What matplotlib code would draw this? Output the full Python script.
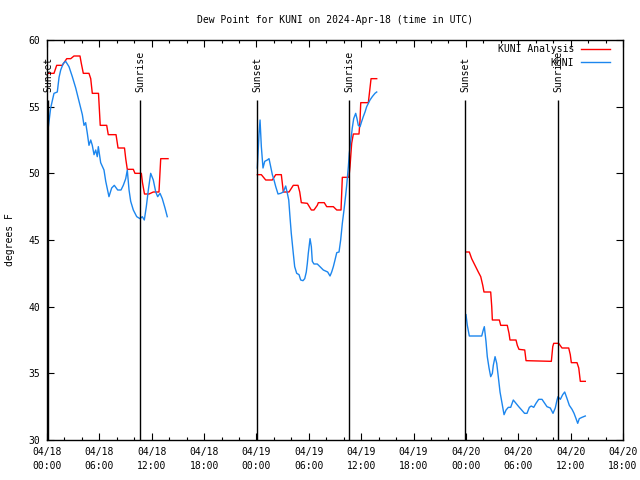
import matplotlib
matplotlib.use("Agg")
import matplotlib.pyplot as plt

# ---- data (hours since 2024-04-18 00:00 UTC) ----
obs_t1 = [0.11, 0.42, 0.80, 1.18, 1.38, 1.57, 1.87, 2.14, 2.52, 2.90, 3.29, 3.67, 4.05, 4.24,
          4.43, 4.62, 4.81, 5.01, 5.19, 5.39, 5.58, 5.76, 5.88, 6.15, 6.53, 6.73, 7.10, 7.41,
          7.71, 8.10, 8.48, 8.74, 9.02, 9.20, 9.40, 9.59, 9.89, 10.28, 10.66, 10.92, 11.15,
          11.38, 11.61, 11.88, 12.18, 12.46, 12.68, 12.95, 13.21, 13.52, 13.78]
obs_v1 = [53.25, 54.9, 56.0, 56.1, 57.2, 57.75, 58.25, 58.4, 58.0, 57.25, 56.4, 55.4, 54.4, 53.6,
          53.8, 53.0, 52.1, 52.5, 52.1, 51.4, 51.75, 51.25, 52.0, 50.8, 50.25, 49.4, 48.25, 48.9,
          49.1, 48.75, 48.75, 49.1, 49.6, 50.25, 48.75, 47.9, 47.25, 46.75, 46.6, 46.75, 46.5,
          47.5, 48.75, 50.0, 49.5, 48.6, 48.25, 48.5, 48.1, 47.4, 46.75]

obs_t2 = [24.10, 24.29, 24.41, 24.56, 24.75, 24.95, 25.24, 25.44, 25.63, 25.82, 26.01, 26.21,
          26.47, 26.78, 27.08, 27.35, 27.54, 27.70, 27.84, 27.99, 28.22, 28.38, 28.61, 28.88,
          29.07, 29.33, 29.53, 29.71, 29.83, 29.94, 30.14, 30.29, 30.40, 30.59, 30.97, 31.28,
          31.66, 32.16, 32.43, 32.62, 32.81, 33.00, 33.20, 33.46, 33.65, 33.84, 34.03, 34.23,
          34.34, 34.53, 34.64, 34.80, 34.98, 35.14, 35.37, 35.52, 35.67, 35.87, 36.06, 36.24,
          36.44, 36.63, 36.82, 37.01, 37.27, 37.58, 37.78]
obs_v2 = [50.4, 52.9, 54.0, 52.0, 50.4, 50.9, 51.0, 51.1, 50.5, 49.9, 49.5, 49.0,
          48.45, 48.5, 48.6, 49.05, 48.5, 48.0, 46.75, 45.5, 44.0, 43.0, 42.5, 42.4,
          42.0, 41.95, 42.1, 42.6, 43.25, 44.0, 45.1, 44.5, 43.4, 43.2, 43.2, 43.0,
          42.75, 42.6, 42.3, 42.6, 43.0, 43.5, 44.05, 44.1, 45.0, 46.25, 47.25, 48.4,
          49.1, 50.5, 51.5, 52.4, 53.4, 54.1, 54.5, 54.1, 53.6, 53.5, 53.9, 54.25,
          54.6, 55.0, 55.25, 55.5, 55.75, 56.0, 56.1]

obs_t3 = [48.01, 48.16, 48.39, 49.81, 49.99, 50.11, 50.30, 50.45, 50.65, 50.84, 51.03, 51.14,
          51.34, 51.53, 51.71, 51.91, 52.10, 52.37, 52.60, 52.86, 53.13, 53.43, 53.74, 54.05,
          54.39, 54.72, 55.00, 55.27, 55.49, 55.77, 56.03, 56.34, 56.72, 57.03, 57.29, 57.67,
          57.98, 58.24, 58.44, 58.55, 58.82, 59.09, 59.32, 59.59, 59.85, 60.16, 60.39, 60.62,
          60.81, 60.99, 61.30, 61.68]
obs_v3 = [39.4, 38.6, 37.8, 37.8, 38.25, 38.5, 37.4, 36.25, 35.4, 34.75, 35.0, 35.6,
          36.25, 35.75, 34.75, 33.6, 32.9, 31.9, 32.25, 32.45, 32.45, 33.0, 32.75, 32.5,
          32.25, 32.0, 32.0, 32.45, 32.55, 32.45, 32.75, 33.05, 33.05, 32.75, 32.5, 32.4,
          32.0, 32.4, 33.0, 33.25, 33.05, 33.4, 33.6, 33.1, 32.6, 32.3, 32.0, 31.6,
          31.25, 31.6, 31.7, 31.8]

ana_t1 = [0.11, 0.80, 1.11, 1.75, 2.26, 2.72, 3.09, 3.78, 3.93, 4.16, 4.81, 5.01, 5.19, 5.90,
          6.10, 6.84, 7.02, 7.91, 8.14, 8.88, 9.02, 9.20, 9.89, 10.08, 10.81, 10.94, 11.17,
          11.69, 12.18, 12.83, 13.03, 13.87]
ana_v1 = [57.5, 57.5, 58.1, 58.1, 58.6, 58.6, 58.8, 58.8, 58.25, 57.5, 57.5, 57.1, 56.0, 56.0,
          53.6, 53.6, 52.9, 52.9, 51.9, 51.9, 51.1, 50.3, 50.3, 50.0, 50.0, 49.3, 48.45,
          48.45, 48.6, 48.6, 51.1, 51.1]

ana_t2 = [24.10, 24.56, 25.06, 25.82, 26.21, 26.85, 27.08, 27.73, 28.22, 28.76, 28.96, 29.14,
          29.83, 30.29, 30.59, 30.97, 31.09, 31.77, 32.05, 32.81, 33.20, 33.69, 33.84, 34.52,
          34.60, 34.72, 34.91, 35.10, 35.75, 35.87, 35.95, 36.82, 37.01, 37.13, 37.78]
ana_v2 = [49.9, 49.9, 49.5, 49.5, 49.9, 49.9, 48.6, 48.6, 49.1, 49.1, 48.6, 47.8,
          47.75, 47.25, 47.25, 47.6, 47.8, 47.8, 47.5, 47.5, 47.25, 47.25, 49.7, 49.7,
          49.75, 50.5, 52.25, 52.95, 52.95, 54.0, 55.3, 55.3, 56.4, 57.1, 57.1]

ana_t3 = [48.01, 48.39, 48.66, 49.04, 49.42, 49.70, 49.93, 50.07, 50.84, 50.96, 51.03, 51.83,
          51.99, 52.74, 52.94, 53.05, 53.74, 53.89, 54.08, 54.74, 54.89, 57.79, 57.95, 58.06,
          58.63, 59.01, 59.78, 59.96, 60.08, 60.73, 60.93, 61.11, 61.68]
ana_v3 = [44.1, 44.1, 43.6, 43.1, 42.6, 42.25, 41.6, 41.1, 41.1, 40.0, 39.0, 39.0,
          38.6, 38.6, 38.0, 37.5, 37.5, 37.1, 36.8, 36.75, 35.95, 35.9, 37.0, 37.25,
          37.25, 36.9, 36.9, 36.4, 35.8, 35.8, 35.4, 34.4, 34.4]

sun_times = [0.11, 10.66, 24.06, 34.61, 47.90, 58.55]
sun_labels = ["Sunset", "Sunrise", "Sunset", "Sunrise", "Sunset", "Sunrise"]

xtick_hours = [0, 6, 12, 18, 24, 30, 36, 42, 48, 54, 60, 66]
xtick_labels = ["04/18\n00:00", "04/18\n06:00", "04/18\n12:00", "04/18\n18:00",
                "04/19\n00:00", "04/19\n06:00", "04/19\n12:00", "04/19\n18:00",
                "04/20\n00:00", "04/20\n06:00", "04/20\n12:00", "04/20\n18:00"]
ytick_vals = [30, 35, 40, 45, 50, 55, 60]

title = "Dew Point for KUNI on 2024-Apr-18 (time in UTC)"

# ---- style ----
FONT = "DejaVu Sans Mono"
FS = 7
RED = "#ff0000"
BLUE = "#1c86ee"
plt.rcParams["font.family"] = FONT
plt.rcParams["font.size"] = FS

fig = plt.figure(figsize=(6.4, 4.8), dpi=100)
ax = fig.add_axes([47 / 640, 40 / 480, 576 / 640, 400 / 480])

for i, (t, v) in enumerate([(ana_t1, ana_v1), (ana_t2, ana_v2), (ana_t3, ana_v3)]):
    ax.plot(t, v, color=RED, lw=1.0, label="KUNI Analysis" if i == 0 else None)
for i, (t, v) in enumerate([(obs_t1, obs_v1), (obs_t2, obs_v2), (obs_t3, obs_v3)]):
    ax.plot(t, v, color=BLUE, lw=1.0, label="KUNI" if i == 0 else None)

for t, lab in zip(sun_times, sun_labels):
    ax.vlines(t, 30, 55.5, color="black", lw=1.0)
    ax.text(t, 56.1, lab, rotation=90, ha="center", va="bottom", fontsize=FS)

ax.set_xlim(0, 66)
ax.set_ylim(30, 60)
ax.set_xticks(xtick_hours)
ax.set_xticklabels(xtick_labels, linespacing=1.5)
ax.set_xticks(list(range(0, 67, 2)), minor=True)
ax.set_yticks(ytick_vals)
ax.set_yticklabels([str(v) for v in ytick_vals])
ax.tick_params(which="both", direction="in", top=True, right=True, width=0.8)
ax.tick_params(which="major", length=5, labelsize=FS)
ax.tick_params(axis="x", which="major", pad=5)
ax.tick_params(axis="y", which="major", pad=5)
ax.tick_params(which="minor", length=2.5)
for s in ax.spines.values():
    s.set_linewidth(1.0)

ax.set_title(title, fontsize=FS, pad=12)
ax.set_ylabel("degrees F", fontsize=FS)
ax.yaxis.set_label_coords(-0.056, 0.5)

leg = ax.legend(loc="upper right", bbox_to_anchor=(0.978, 0.99), frameon=False,
                markerfirst=False, handlelength=3.0, handletextpad=0.7,
                labelspacing=0.4, borderpad=0, borderaxespad=0, fontsize=FS)

fig.savefig("out.png", dpi=100)
